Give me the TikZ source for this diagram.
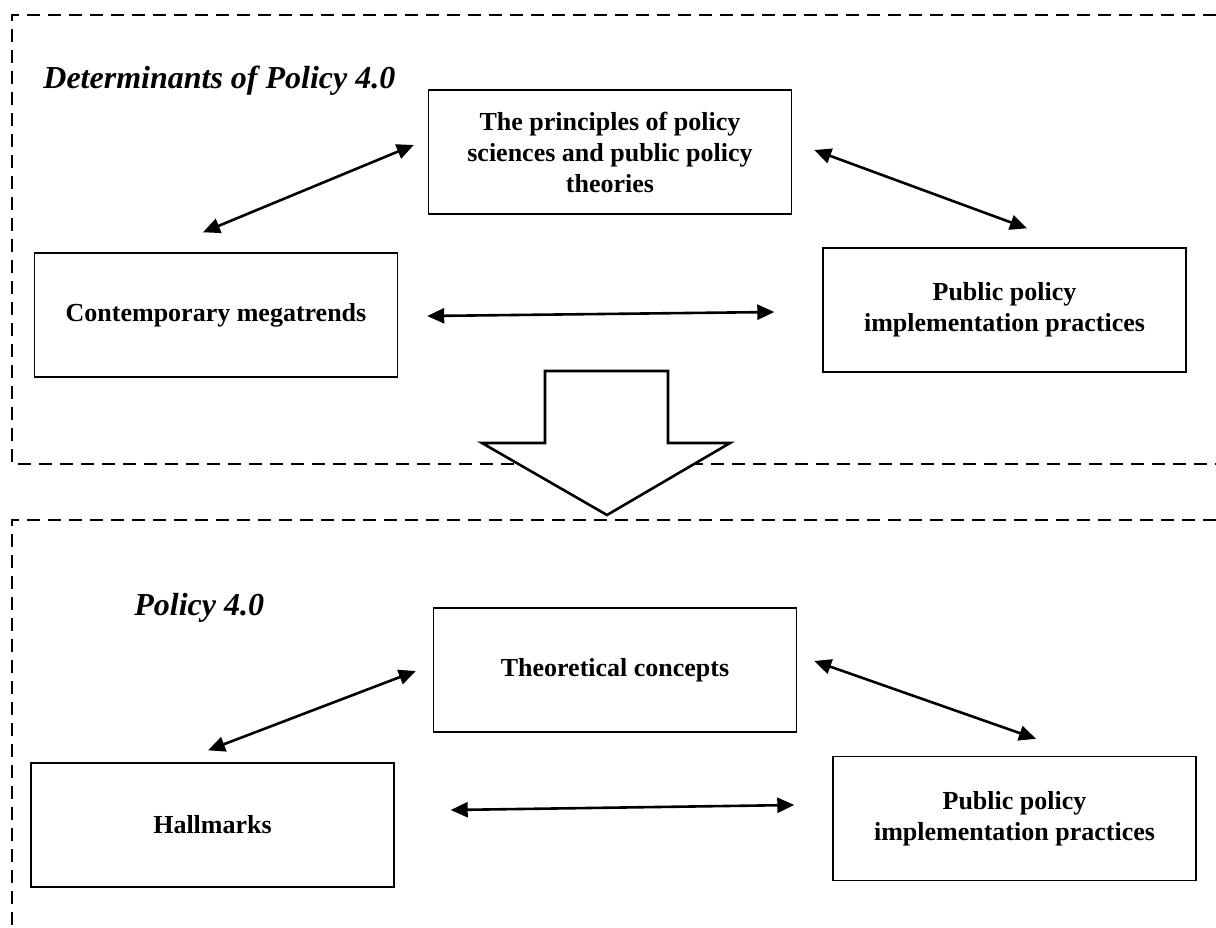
\documentclass[tikz,border=0pt]{standalone}
\usepackage{fontspec}
\setmainfont{Liberation Serif}
\usetikzlibrary{positioning,arrows.meta}

\begin{document}
\begin{tikzpicture}[
        x=0.5pt, y=-0.5pt,
        box/.style={draw, line width=0.7pt, minimum width=181.5pt, minimum height=62pt, align=center, font=\fontsize{13}{15.5}\selectfont\bfseries},
        heading/.style={anchor=west, inner sep=0pt, font=\fontsize{16}{19}\selectfont\bfseries\itshape},
        link/.style={<->, line width=1.3pt},
        zone/.style={line width=1.2pt, dash pattern=on 6.5pt off 4pt},
        >={Triangle[length=8.5pt, width=7.5pt]}
    ]
        \useasboundingbox (0,0) rectangle (1216,927);

        % Dashed zones
        \draw[zone] (1216,15) -- (12,15) -- (12,464) -- (1216,464);
        \draw[zone] (1216,520) -- (12,520) -- (12,927);

        % Determinants
        \node[heading] (dettitle) at (43,81) {Determinants of Policy 4.0};
        \node[box] (princ) at (610,152) {The principles of policy\\sciences and public policy\\theories};
        \node[box] (mega) at (216,315) {Contemporary megatrends};
        \node[box] (impl) at (1004.5,310) {Public policy\\implementation practices};

        \draw[link] ([shift={(-13,-20)}]mega.north) -- ([shift={(-14,-7)}]princ.west);
        \draw[link] ([shift={(22,-2)}]princ.east) -- ([shift={(22.5,-19)}]impl.north);
        \draw[link] ([shift={(29,1)}]mega.east) -- ([shift={(-48,2)}]impl.west);

        % Big arrow
        \draw[line width=1.3pt, fill=white] (545,371) -- (668,371) -- (668,443) -- (730,443)
            -- (607,515) -- (482,443) -- (545,443) -- cycle;

        % Policy 4.0
        \node[heading] (poltitle) at (134,608) {Policy 4.0};
        \node[box] (theory) at (615,670) {Theoretical concepts};
        \node[box] (hall) at (212.5,825) {Hallmarks};
        \node[box] (impltwo) at (1014.5,818.5) {Public policy\\implementation practices};

        \draw[link] ([shift={(-4.5,-12)}]hall.north) -- ([shift={(-17,1)}]theory.west);
        \draw[link] ([shift={(17,-9)}]theory.east) -- ([shift={(21.5,-17)}]impltwo.north);
        \draw[link] ([shift={(56,-15)}]hall.east) -- ([shift={(-38,-13.5)}]impltwo.west);
    \end{tikzpicture}
\end{document}
